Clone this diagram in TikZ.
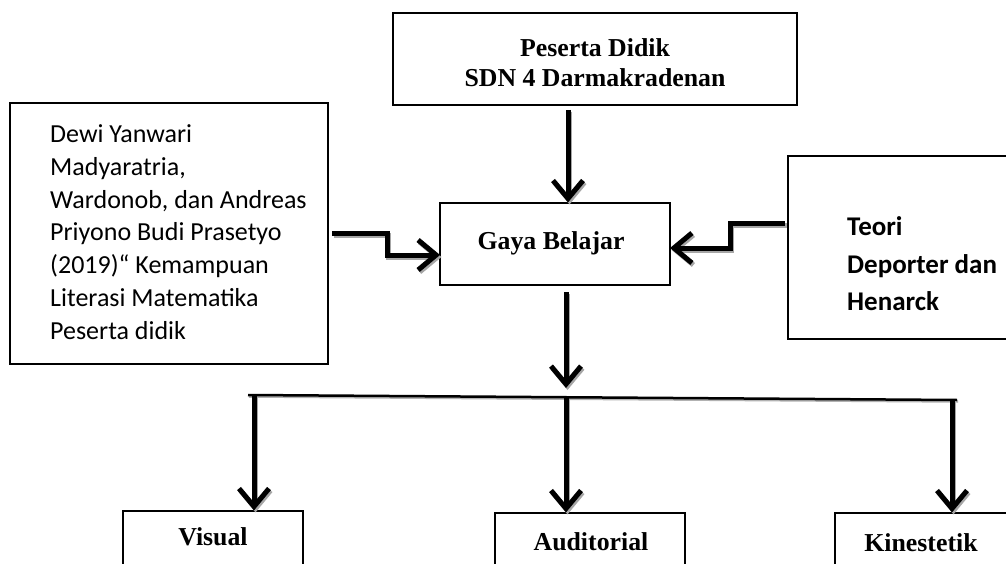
\documentclass[tikz,border=0pt]{standalone}
\usepackage{fontspec}
\setmainfont{Liberation Serif}
\newfontfamily\calib{Carlito}
\usetikzlibrary{arrows.meta}
\tikzset{
  boxnode/.style={draw=black, line width=1.2pt, inner sep=0pt, fill=white},
  serifbold/.style={font=\fontsize{25.8}{30}\selectfont\bfseries, inner sep=0pt, align=center},
  arr/.style={line width=5pt, -{Straight Barb[length=18pt,width=30pt,line width=5pt]}},
  arrshadow/.style={line width=5pt, draw=black!35, -{Straight Barb[length=18pt,width=30pt,line width=5pt]}, transform canvas={shift={(1.5pt,-2pt)}}},
}
\begin{document}
\begin{tikzpicture}[x=1pt,y=-1pt]
\clip (0,0) rectangle (1006,564);
\fill[white] (0,0) rectangle (1006,564);
% boxes
\node[boxnode, minimum width=404, minimum height=92] (top) at (595,59) {};
\node[boxnode, minimum width=230, minimum height=82] (gaya) at (555,244) {};
\node[boxnode, minimum width=318, minimum height=261] (left) at (169,233.5) {};
\node[boxnode, minimum width=220, minimum height=183] (right) at (898,247.5) {};
\node[boxnode, minimum width=180, minimum height=100] (visual) at (213,561) {};
\node[boxnode, minimum width=190, minimum height=100] (audit) at (590,563) {};
\node[boxnode, minimum width=174, minimum height=100] (kin) at (922,563) {};
% texts
\node[serifbold] (toptext) at (595,63) {Peserta Didik\\SDN 4 Darmakradenan};
\node[serifbold] (gayatext) at (551,243) {Gaya Belajar};
\node[anchor=west, inner sep=0pt, align=left, font=\calib\fontsize{26}{32.8}\selectfont] (lefttext) at (50,232) {Dewi Yanwari\\Madyaratria,\\Wardonob, dan Andreas\\Priyono Budi Prasetyo\\(2019)“ Kemampuan\\Literasi Matematika\\Peserta didik};
\node[anchor=west, inner sep=0pt, align=left, font=\calib\bfseries\fontsize{27}{37.5}\selectfont] (righttext) at (847,264) {Teori\\Deporter dan\\Henarck};
\node[serifbold] (vistext) at (213,537) {Visual};
\node[serifbold] (audtext) at (591,542) {Auditorial};
\node[serifbold] (kintext) at (921,543) {Kinestetik};
% coordinates
\coordinate (a1) at (568,110);
\coordinate (l0) at (332,233);
\coordinate (l1) at (387,233);
\coordinate (l2) at (387,255);
\coordinate (l3) at (440,255);
\coordinate (r0) at (785,223);
\coordinate (r1) at (730,223);
\coordinate (r2) at (730,248);
\coordinate (r3) at (670,248);
\coordinate (g0) at (566,292);
\coordinate (g1) at (566,388);
\coordinate (hl) at (248,395);
\coordinate (hr) at (957,400);
\coordinate (b1) at (254,395);
\coordinate (b2) at (566,397);
\coordinate (b3) at (952,400);
% horizontal line
\draw[line width=2.5pt, draw=black!30, transform canvas={shift={(1pt,-1.5pt)}}] (hl) -- (hr);
\draw[line width=2.5pt] (hl) -- (hr);
% shadows
\draw[arrshadow] (a1) -- (gaya.north -| a1);
\draw[arrshadow] (l0) -- (l1) -- (l2) -- (l3);
\draw[arrshadow] (r0) -- (r1) -- (r2) -- (r3);
\draw[arrshadow] (g0) -- (g1);
\draw[arrshadow] (b1) -- (visual.north -| b1);
\draw[arrshadow] (b2) -- (audit.north -| b2);
\draw[arrshadow] (b3) -- (kin.north -| b3);
% arrows
\draw[arr] (a1) -- (gaya.north -| a1);
\draw[arr] (l0) -- (l1) -- (l2) -- (l3);
\draw[arr] (r0) -- (r1) -- (r2) -- (r3);
\draw[arr] (g0) -- (g1);
\draw[arr] (b1) -- (visual.north -| b1);
\draw[arr] (b2) -- (audit.north -| b2);
\draw[arr] (b3) -- (kin.north -| b3);
\end{tikzpicture}
\end{document}
